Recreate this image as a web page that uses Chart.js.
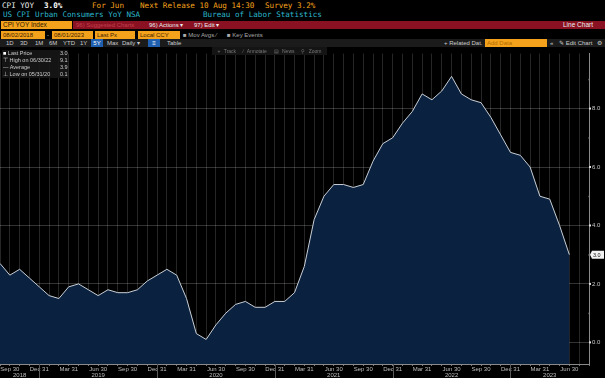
<!DOCTYPE html>
<html>
<head>
<meta charset="utf-8">
<script src="https://cdn.jsdelivr.net/npm/chart.js@4/dist/chart.umd.min.js"></script>
<style>
  body { margin: 0; background: #000; width: 605px; height: 378px; overflow: hidden; position: relative; font-family: "Liberation Sans", Arial, sans-serif; }
  .t { position: absolute; white-space: nowrap; }
  .mono { font-family: "DejaVu Sans Mono", monospace; font-size: 7.6px; line-height: 10px; }
  .orange { color: #f4a21c; }
  .cyan { color: #2cb6cc; }
  .small { font-size: 6px; line-height: 8px; }
  .box { background: #f4a21c; color: #3a2000; padding-left: 2px; box-sizing: border-box; }
  #chart { position: absolute; left: 0; top: 47px; }
</style>
</head>
<body>

<!-- header rows -->
<div class="t mono" style="left:2px;top:1px;color:#eee">CPI YOY</div>
<div class="t mono" style="left:44px;top:1px;color:#fff;font-weight:bold">3.0%</div>
<div class="t mono orange" style="left:92px;top:1px">For Jun</div>
<div class="t mono orange" style="left:140px;top:1px">Next Release 10 Aug 14:30</div>
<div class="t mono orange" style="left:265px;top:1px">Survey 3.2%</div>
<div class="t mono cyan" style="left:3px;top:10px">US CPI Urban Consumers YoY NSA</div>
<div class="t mono cyan" style="left:203px;top:10px">Bureau of Labor Statistics</div>

<div class="t small box" style="left:1px;top:21px;width:71px;height:8px;font-size:6.5px;color:#2a1500">CPI YOY Index</div>
<div class="t" style="left:73px;top:21px;width:532px;height:8px;background:#8a1121"></div>
<div class="t small" style="left:76px;top:21px;color:#c2404f">96) Suggested Charts</div>
<div class="t small" style="left:149px;top:21px;color:#eee">96) Actions &#9662;</div>
<div class="t small" style="left:194px;top:21px;color:#eee">97) Edit &#9662;</div>
<div class="t small" style="left:563px;top:21px;color:#eee;font-size:6.5px">Line Chart</div>

<div class="t small box" style="left:1px;top:31px;width:44px;height:8px">08/02/2018</div>
<div class="t small" style="left:47px;top:31px;color:#ccc">-</div>
<div class="t small box" style="left:52px;top:31px;width:41px;height:8px">08/01/2023</div>
<div class="t small box" style="left:95px;top:31px;width:40px;height:8px">Last Px</div>
<div class="t small box" style="left:138px;top:31px;width:42px;height:8px">Local CCY</div>
<div class="t small" style="left:183px;top:31px;color:#aaa">&#9632; Mov Avgs &#8725;</div>
<div class="t small" style="left:227px;top:31px;color:#aaa">&#9632; Key Events</div>

<div class="t" style="left:0;top:39px;width:605px;height:8px;background:#1b1b1b"></div>
<div class="t small" style="left:6px;top:39px;color:#ccc">1D</div>
<div class="t small" style="left:20px;top:39px;color:#ccc">3D</div>
<div class="t small" style="left:35px;top:39px;color:#ccc">1M</div>
<div class="t small" style="left:49px;top:39px;color:#ccc">6M</div>
<div class="t small" style="left:63px;top:39px;color:#ccc">YTD</div>
<div class="t small" style="left:80px;top:39px;color:#ccc">1Y</div>
<div class="t small" style="left:91px;top:39px;width:12px;height:8px;background:#1f5fb0;color:#fff;text-align:center">5Y</div>
<div class="t small" style="left:107px;top:39px;color:#ccc">Max</div>
<div class="t small" style="left:122px;top:39px;color:#ccc">Daily &#9662;</div>
<div class="t small" style="left:148px;top:39px;width:12px;height:8px;background:#1f5fb0;color:#fff;text-align:center">&#8801;</div>
<div class="t small" style="left:167px;top:39px;color:#ccc">Table</div>
<div class="t small" style="left:444px;top:39px;color:#ccc">+ Related Dat.</div>
<div class="t small box" style="left:485px;top:39px;width:62px;height:8px;color:#b06a00">Add Data</div>
<div class="t small" style="left:550px;top:39px;color:#ccc">&laquo;</div>
<div class="t small" style="left:559px;top:39px;color:#ccc">&#9998; Edit Chart</div>
<div class="t small" style="left:597px;top:39px;color:#ccc">&#9881;</div>

<canvas id="chart" width="605" height="331"></canvas>

<!-- overlays on the chart -->
<div class="t" style="left:2px;top:50px;width:66px;height:28px;background:rgba(22,22,22,0.92)"></div>
<div class="t" style="left:3px;top:50px;font-size:5.5px;line-height:7px;color:#ccc">
  <div><span style="color:#fff">&#9632;</span> Last Price<span style="position:absolute;left:57px">3.0</span></div>
  <div>&#8868; High on 06/30/22<span style="position:absolute;left:57px">9.1</span></div>
  <div>&#8212; Average<span style="position:absolute;left:57px">3.9</span></div>
  <div>&#8869; Low on 05/31/20<span style="position:absolute;left:57px">0.1</span></div>
</div>
<div class="t" style="left:212px;top:47px;width:115px;height:8px;background:#141414;font-size:5px;line-height:8px;color:#777;word-spacing:2px;text-align:center">+ Track &nbsp;&#8725; Annotate &nbsp;&#9636; News &nbsp;&#9906; Zoom</div>

<script>
// CPI YoY %, month ends Aug 2018 .. Jun 2023
const monthLabels = [
  'Aug 31', 'Sep 30', 'Oct 31', 'Nov 30', 'Dec 31',
  'Jan 31', 'Feb 28', 'Mar 31', 'Apr 30', 'May 31', 'Jun 30', 'Jul 31', 'Aug 31', 'Sep 30', 'Oct 31', 'Nov 30', 'Dec 31',
  'Jan 31', 'Feb 29', 'Mar 31', 'Apr 30', 'May 31', 'Jun 30', 'Jul 31', 'Aug 31', 'Sep 30', 'Oct 31', 'Nov 30', 'Dec 31',
  'Jan 31', 'Feb 28', 'Mar 31', 'Apr 30', 'May 31', 'Jun 30', 'Jul 31', 'Aug 31', 'Sep 30', 'Oct 31', 'Nov 30', 'Dec 31',
  'Jan 31', 'Feb 28', 'Mar 31', 'Apr 30', 'May 31', 'Jun 30', 'Jul 31', 'Aug 31', 'Sep 30', 'Oct 31', 'Nov 30', 'Dec 31',
  'Jan 31', 'Feb 28', 'Mar 31', 'Apr 30', 'May 31', 'Jun 30'
];
const cpiYoY = [
  2.7, 2.3, 2.5, 2.2, 1.9,
  1.6, 1.5, 1.9, 2.0, 1.8, 1.6, 1.8, 1.7, 1.7, 1.8, 2.1, 2.3,
  2.5, 2.3, 1.5, 0.3, 0.1, 0.6, 1.0, 1.3, 1.4, 1.2, 1.2, 1.4,
  1.4, 1.7, 2.6, 4.2, 5.0, 5.4, 5.4, 5.3, 5.4, 6.2, 6.8, 7.0,
  7.5, 7.9, 8.5, 8.3, 8.6, 9.1, 8.5, 8.3, 8.2, 7.7, 7.1, 6.5,
  6.4, 6.0, 5.0, 4.9, 4.0, 3.0
];
const quarterLabels = ['Mar 31', 'Jun 30', 'Sep 30', 'Dec 31'];
const years = ['2018', '2019', '2020', '2021', '2022', '2023'];
const yTicks = [0, 1, 2, 3, 4, 5, 6, 7, 8, 9];
const lastValue = cpiYoY[cpiYoY.length - 1];

const points = cpiYoY.map((v, i) => ({ x: i, y: v }));

// year labels, year separators, axis markers and last value tag
const bbgExtras = {
    id: 'bbgExtras',
    afterDraw(chart) {
        const ctx = chart.ctx;
        const xs = chart.scales.x;
        const ys = chart.scales.y;
        const area = chart.chartArea;
        ctx.save();

        // year separators at Dec 31 ticks
        const decIdx = [];
        monthLabels.forEach((m, i) => { if (m === 'Dec 31') decIdx.push(i); });
        ctx.strokeStyle = '#5a5a5a';
        ctx.lineWidth = 1;
        decIdx.forEach(i => {
            const px = Math.round(xs.getPixelForValue(i)) + 0.5;
            ctx.beginPath();
            ctx.moveTo(px, area.bottom);
            ctx.lineTo(px, chart.height);
            ctx.stroke();
        });

        // year labels centred between separators
        const bounds = [area.left].concat(decIdx.map(i => xs.getPixelForValue(i)), [area.right]);
        ctx.fillStyle = '#bdbdbd';
        ctx.font = '6px "Liberation Sans", Arial, sans-serif';
        ctx.textAlign = 'center';
        ctx.textBaseline = 'middle';
        years.forEach((y, k) => {
            ctx.fillText(y, (bounds[k] + bounds[k + 1]) / 2, area.bottom + 11);
        });

        // y axis markers
        const ax = ys.left;
        yTicks.forEach(v => {
            const py = ys.getPixelForValue(v);
            if (v % 2 === 0) {
                ctx.fillStyle = '#e0e0e0';
                ctx.fillRect(ax, py - 1, 2, 2);
            } else {
                ctx.fillStyle = '#888';
                ctx.fillRect(ax - 0.5, py - 0.5, 1.5, 1.5);
            }
        });

        // last value tag
        const ly = ys.getPixelForValue(lastValue);
        ctx.fillStyle = '#f2f2f2';
        ctx.beginPath();
        ctx.moveTo(ax + 1, ly);
        ctx.lineTo(ax + 3, ly - 4);
        ctx.lineTo(ax + 15, ly - 4);
        ctx.lineTo(ax + 15, ly + 4);
        ctx.lineTo(ax + 3, ly + 4);
        ctx.closePath();
        ctx.fill();
        ctx.fillStyle = '#111';
        ctx.textAlign = 'left';
        ctx.font = '5.5px "Liberation Sans", Arial, sans-serif';
        ctx.fillText(lastValue.toFixed(1), ax + 4, ly + 0.5);
        ctx.restore();
    }
};

new Chart(document.getElementById('chart'), {
    type: 'line',
    data: {
        datasets: [{
            data: points,
            borderColor: '#c9cfd6',
            borderWidth: 1,
            backgroundColor: '#0a2240',
            fill: 'start',
            pointRadius: 0,
            tension: 0
        }]
    },
    options: {
        responsive: false,
        animation: false,
        devicePixelRatio: 1,
        layout: { padding: { top: 1, left: 0, right: 0, bottom: 0 } },
        plugins: { legend: { display: false }, tooltip: { enabled: false } },
        scales: {
            x: {
                type: 'linear',
                min: 0,
                max: 60,
                z: 1,
                afterBuildTicks: s => { s.ticks = monthLabels.concat(['Jul 31', 'Aug 31']).map((m, i) => ({ value: i })); },
                afterFit: s => { s.height = 14; },
                grid: {
                    color: 'rgba(255,255,255,0.15)',
                    lineWidth: 1,
                    drawTicks: true,
                    tickLength: 2,
                    tickColor: '#777'
                },
                border: { display: true, color: '#8a8a8a' },
                ticks: {
                    autoSkip: false,
                    maxRotation: 0,
                    padding: 0,
                    color: '#bdbdbd',
                    font: { size: 6, family: '"Liberation Sans", Arial, sans-serif' },
                    callback: v => {
                        const m = monthLabels[v];
                        return m && quarterLabels.includes(m) ? m : '';
                    }
                }
            },
            y: {
                position: 'right',
                min: -0.74,
                max: 9.88,
                z: 1,
                afterBuildTicks: s => { s.ticks = yTicks.map(v => ({ value: v })); },
                afterFit: s => { s.width = 16; },
                grid: {
                    color: c => (c.tick && c.tick.value % 2 === 0) ? 'rgba(255,255,255,0.2)' : 'rgba(0,0,0,0)',
                    drawTicks: false
                },
                border: { display: true, color: '#8a8a8a' },
                ticks: {
                    padding: 3,
                    color: '#c8c8c8',
                    font: { size: 6, family: '"Liberation Sans", Arial, sans-serif' },
                    callback: v => (v % 2 === 0 ? v.toFixed(1) : '')
                }
            }
        }
    },
    plugins: [bbgExtras]
});
</script>
</body>
</html>
